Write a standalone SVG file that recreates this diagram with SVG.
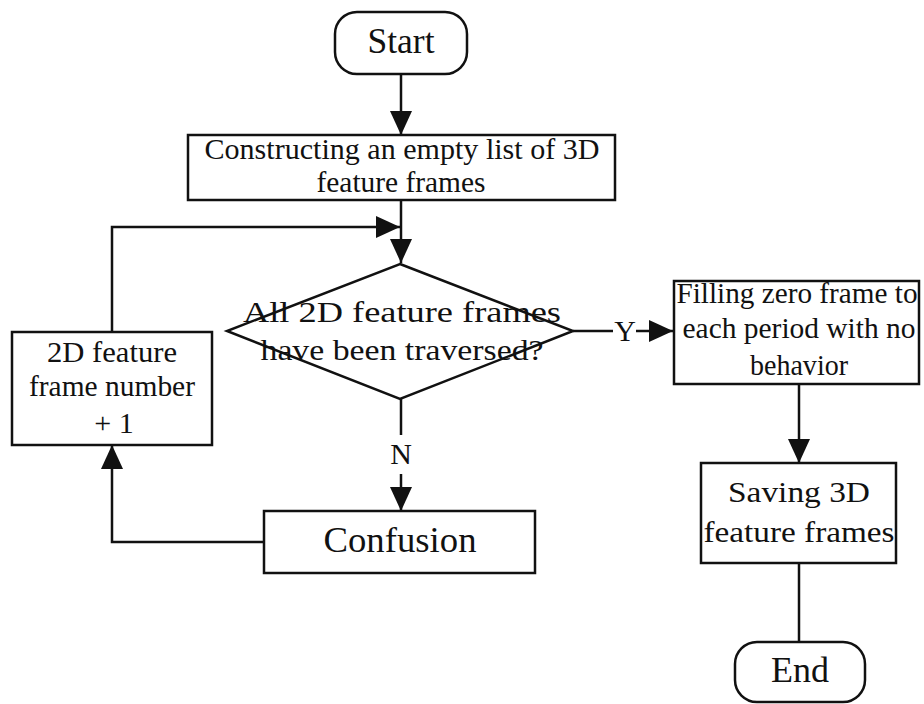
<svg xmlns="http://www.w3.org/2000/svg" width="924" height="704" viewBox="0 0 924 704">
  <defs>
    <marker id="head" markerUnits="userSpaceOnUse" markerWidth="24" markerHeight="24" viewBox="0 0 24 24" refX="24" refY="12" orient="auto">
      <path d="M0,1 L24,12 L0,23 Z" fill="#111111"/>
    </marker>
  </defs>

  <rect width="924" height="704" fill="#ffffff"/>

  <g id="connectors" fill="none" stroke="#111111" stroke-width="2.5">
    <line x1="401" y1="74" x2="401" y2="135" marker-end="url(#head)"/>
    <line x1="401" y1="200" x2="401" y2="263" marker-end="url(#head)"/>
    <polyline points="112,332 112,227 400,227" marker-end="url(#head)"/>
    <line x1="573" y1="331" x2="613" y2="331"/>
    <line x1="636" y1="331" x2="673" y2="331" marker-end="url(#head)"/>
    <line x1="401" y1="399" x2="401" y2="435"/>
    <line x1="401" y1="474" x2="401" y2="511" marker-end="url(#head)"/>
    <polyline points="264,542 112,542 112,445" marker-end="url(#head)"/>
    <line x1="799" y1="384" x2="799" y2="463" marker-end="url(#head)"/>
    <line x1="799" y1="563" x2="799" y2="642"/>
    <g stroke="none" fill="#111111" font-family="Liberation Serif, serif" font-size="30" text-anchor="middle">
      <text x="625" y="341">Y</text>
      <text x="401" y="464">N</text>
    </g>
  </g>

  <g font-family="Liberation Serif, serif" font-size="30" text-anchor="middle">
    <g id="start">
      <rect x="335" y="12" width="132" height="62" rx="22" fill="#ffffff" stroke="#111111" stroke-width="2.5"/>
      <text x="401" y="53" font-size="36" fill="#111111" textLength="67" lengthAdjust="spacingAndGlyphs">Start</text>
    </g>

    <g id="build-list">
      <rect x="188" y="135" width="427" height="65" fill="#ffffff" stroke="#111111" stroke-width="2.5"/>
      <text x="402" y="159" fill="#111111" textLength="395" lengthAdjust="spacingAndGlyphs">Constructing an empty list of 3D</text>
      <text x="401" y="192" fill="#111111" textLength="169" lengthAdjust="spacingAndGlyphs">feature frames</text>
    </g>

    <g id="traversed-check">
      <polygon points="400,264 573,331 400,399 227,331" fill="#ffffff" stroke="#111111" stroke-width="2.5"/>
      <text x="402" y="322" fill="#111111" textLength="318" lengthAdjust="spacingAndGlyphs">All 2D feature frames</text>
      <text x="402" y="360" fill="#111111" textLength="283" lengthAdjust="spacingAndGlyphs">have been traversed?</text>
    </g>

    <g id="frame-increment">
      <rect x="12" y="332" width="200" height="113" fill="#ffffff" stroke="#111111" stroke-width="2.5"/>
      <text x="112" y="362" fill="#111111" textLength="130" lengthAdjust="spacingAndGlyphs">2D feature</text>
      <text x="112" y="396" fill="#111111" textLength="166" lengthAdjust="spacingAndGlyphs">frame number</text>
      <text x="114" y="433" fill="#111111">+ 1</text>
    </g>

    <g id="confusion">
      <rect x="264" y="511" width="271" height="62" fill="#ffffff" stroke="#111111" stroke-width="2.5"/>
      <text x="400" y="552" font-size="36" fill="#111111" textLength="153" lengthAdjust="spacingAndGlyphs">Confusion</text>
    </g>

    <g id="fill-zero">
      <rect x="674" y="281" width="245" height="103" fill="#ffffff" stroke="#111111" stroke-width="2.5"/>
      <text x="797" y="303" fill="#111111" textLength="241" lengthAdjust="spacingAndGlyphs">Filling zero frame to</text>
      <text x="799" y="338" fill="#111111" textLength="233" lengthAdjust="spacingAndGlyphs">each period with no</text>
      <text x="799" y="375" fill="#111111" textLength="98" lengthAdjust="spacingAndGlyphs">behavior</text>
    </g>

    <g id="save">
      <rect x="701" y="463" width="195" height="100" fill="#ffffff" stroke="#111111" stroke-width="2.5"/>
      <text x="799" y="502" fill="#111111" textLength="142" lengthAdjust="spacingAndGlyphs">Saving 3D</text>
      <text x="799" y="542" fill="#111111" textLength="191" lengthAdjust="spacingAndGlyphs">feature frames</text>
    </g>

    <g id="end">
      <rect x="735" y="642" width="130" height="60" rx="22" fill="#ffffff" stroke="#111111" stroke-width="2.5"/>
      <text x="800" y="682" font-size="36" fill="#111111" textLength="58" lengthAdjust="spacingAndGlyphs">End</text>
    </g>
  </g>
</svg>
